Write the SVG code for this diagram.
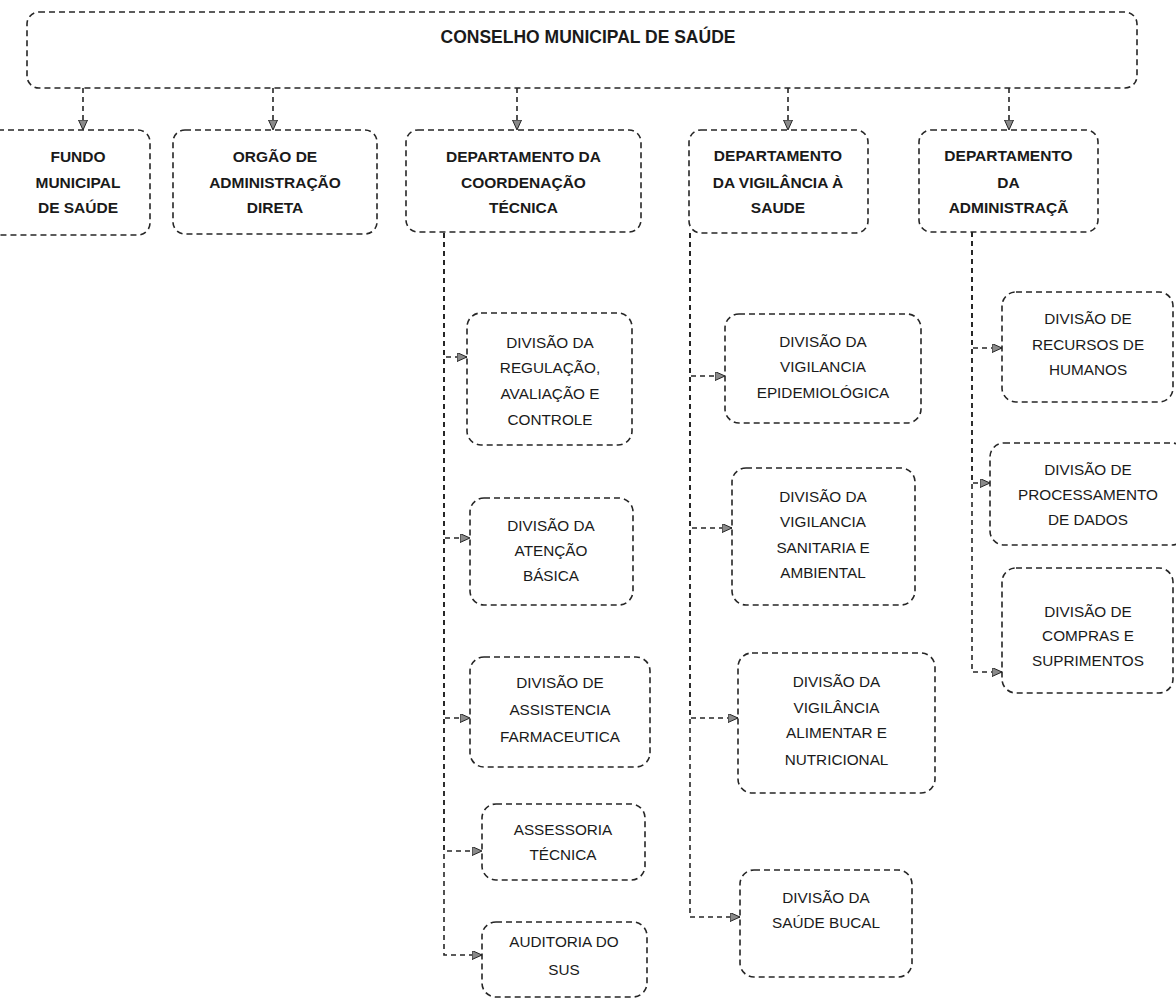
<svg xmlns="http://www.w3.org/2000/svg" width="1176" height="1001" viewBox="0 0 1176 1001">
<style>
  .box { fill: none; stroke: #262626; stroke-width: 1.6; stroke-dasharray: 6 4; }
  .conn { fill: none; stroke: #262626; stroke-width: 1.6; stroke-dasharray: 5 4; }
  .t { font-family: "Liberation Sans", Arial, sans-serif; font-size: 15.3px; fill: #1a1a1a; text-anchor: middle; }
  .tb { font-family: "Liberation Sans", Arial, sans-serif; font-size: 15.5px; font-weight: bold; fill: #1a1a1a; text-anchor: middle; }
  .title { font-family: "Liberation Sans", Arial, sans-serif; font-size: 17.5px; font-weight: bold; fill: #1a1a1a; text-anchor: middle; }
</style>
<defs>
  <marker id="arr" markerUnits="userSpaceOnUse" markerWidth="11" markerHeight="10" refX="10" refY="4.5" orient="auto">
    <path d="M0,0 L10,4.5 L0,9 Z" fill="#8a8a8a" stroke="#262626" stroke-width="1"/>
  </marker>
</defs>
<rect width="1176" height="1001" fill="#ffffff"/>

<g id="connectors">
  <path class="conn" d="M83,88 V130" marker-end="url(#arr)"/>
  <path class="conn" d="M273,88 V130" marker-end="url(#arr)"/>
  <path class="conn" d="M517,88 V130" marker-end="url(#arr)"/>
  <path class="conn" d="M788,88 V130" marker-end="url(#arr)"/>
  <path class="conn" d="M1009,88 V130" marker-end="url(#arr)"/>

  <path class="conn" d="M444,233 V357 H467" marker-end="url(#arr)"/>
  <path class="conn" d="M444,233 V538 H470" marker-end="url(#arr)"/>
  <path class="conn" d="M444,233 V718 H470" marker-end="url(#arr)"/>
  <path class="conn" d="M444,233 V851 H482" marker-end="url(#arr)"/>
  <path class="conn" d="M444,233 V955 H482" marker-end="url(#arr)"/>

  <path class="conn" d="M690,233 V376 H725" marker-end="url(#arr)"/>
  <path class="conn" d="M690,233 V528 H732" marker-end="url(#arr)"/>
  <path class="conn" d="M690,233 V718 H738" marker-end="url(#arr)"/>
  <path class="conn" d="M690,233 V917 H740" marker-end="url(#arr)"/>

  <path class="conn" d="M972,232 V348 H1002" marker-end="url(#arr)"/>
  <path class="conn" d="M972,232 V483 H990" marker-end="url(#arr)"/>
  <path class="conn" d="M972,232 V672 H1002" marker-end="url(#arr)"/>
</g>

<g id="conselho">
  <rect class="box" x="27" y="12" width="1110" height="76" rx="12"/>
  <text class="title" x="588" y="43">CONSELHO MUNICIPAL DE SAÚDE</text>
</g>

<g id="fundo">
  <rect class="box" x="-14" y="130" width="164" height="105" rx="12"/>
  <text class="tb" x="78" y="162">FUNDO</text>
  <text class="tb" x="78" y="188">MUNICIPAL</text>
  <text class="tb" x="78" y="213">DE SAÚDE</text>
</g>

<g id="orgao">
  <rect class="box" x="173" y="130" width="204" height="104" rx="12"/>
  <text class="tb" x="275" y="162">ORGÃO DE</text>
  <text class="tb" x="275" y="188">ADMINISTRAÇÃO</text>
  <text class="tb" x="275" y="213">DIRETA</text>
</g>

<g id="dept-coord">
  <rect class="box" x="406" y="130" width="235" height="102" rx="12"/>
  <text class="tb" x="523.5" y="162">DEPARTAMENTO DA</text>
  <text class="tb" x="523.5" y="188">COORDENAÇÃO</text>
  <text class="tb" x="523.5" y="213">TÉCNICA</text>
</g>

<g id="dept-vig">
  <rect class="box" x="689" y="130" width="179" height="103" rx="12"/>
  <text class="tb" x="778" y="161">DEPARTAMENTO</text>
  <text class="tb" x="778" y="188">DA VIGILÂNCIA À</text>
  <text class="tb" x="778" y="213">SAUDE</text>
</g>

<g id="dept-adm">
  <rect class="box" x="919" y="130" width="179" height="102" rx="12"/>
  <text class="tb" x="1008.5" y="161">DEPARTAMENTO</text>
  <text class="tb" x="1008.5" y="188">DA</text>
  <text class="tb" x="1008.5" y="213">ADMINISTRAÇÃ</text>
</g>

<g id="div-regulacao">
  <rect class="box" x="467" y="313" width="165" height="132" rx="14"/>
  <text class="t" x="550" y="348">DIVISÃO DA</text>
  <text class="t" x="550" y="373">REGULAÇÃO,</text>
  <text class="t" x="550" y="399">AVALIAÇÃO E</text>
  <text class="t" x="550" y="425">CONTROLE</text>
</g>

<g id="div-atencao">
  <rect class="box" x="470" y="498" width="163" height="107" rx="14"/>
  <text class="t" x="551" y="531">DIVISÃO  DA</text>
  <text class="t" x="551" y="556">ATENÇÃO</text>
  <text class="t" x="551" y="581">BÁSICA</text>
</g>

<g id="div-farmaceutica">
  <rect class="box" x="470" y="657" width="180" height="110" rx="14"/>
  <text class="t" x="560" y="688">DIVISÃO  DE</text>
  <text class="t" x="560" y="715">ASSISTENCIA</text>
  <text class="t" x="560" y="742">FARMACEUTICA</text>
</g>

<g id="assessoria">
  <rect class="box" x="482" y="804" width="163" height="76" rx="14"/>
  <text class="t" x="563" y="835">ASSESSORIA</text>
  <text class="t" x="563" y="860">TÉCNICA</text>
</g>

<g id="auditoria">
  <rect class="box" x="482" y="922" width="165" height="75" rx="14"/>
  <text class="t" x="564" y="947">AUDITORIA DO</text>
  <text class="t" x="564" y="975">SUS</text>
</g>

<g id="div-epidemiologica">
  <rect class="box" x="725" y="314" width="196" height="109" rx="14"/>
  <text class="t" x="823" y="347">DIVISÃO DA</text>
  <text class="t" x="823" y="372">VIGILANCIA</text>
  <text class="t" x="823" y="398">EPIDEMIOLÓGICA</text>
</g>

<g id="div-sanitaria">
  <rect class="box" x="732" y="468" width="183" height="137" rx="14"/>
  <text class="t" x="823" y="502">DIVISÃO DA</text>
  <text class="t" x="823" y="527">VIGILANCIA</text>
  <text class="t" x="823" y="553">SANITARIA E</text>
  <text class="t" x="823" y="578">AMBIENTAL</text>
</g>

<g id="div-alimentar">
  <rect class="box" x="738" y="653" width="197" height="140" rx="14"/>
  <text class="t" x="836.5" y="687">DIVISÃO DA</text>
  <text class="t" x="836.5" y="713">VIGILÂNCIA</text>
  <text class="t" x="836.5" y="738">ALIMENTAR E</text>
  <text class="t" x="836.5" y="765">NUTRICIONAL</text>
</g>

<g id="div-bucal">
  <rect class="box" x="740" y="870" width="172" height="107" rx="14"/>
  <text class="t" x="826" y="903">DIVISÃO DA</text>
  <text class="t" x="826" y="928">SAÚDE BUCAL</text>
</g>

<g id="div-rh">
  <rect class="box" x="1002" y="292" width="171" height="110" rx="14"/>
  <text class="t" x="1088" y="324">DIVISÃO DE</text>
  <text class="t" x="1088" y="350">RECURSOS DE</text>
  <text class="t" x="1088" y="375">HUMANOS</text>
</g>

<g id="div-dados">
  <rect class="box" x="990" y="443" width="196" height="102" rx="14"/>
  <text class="t" x="1088" y="475">DIVISÃO DE</text>
  <text class="t" x="1088" y="500">PROCESSAMENTO</text>
  <text class="t" x="1088" y="525">DE DADOS</text>
</g>

<g id="div-compras">
  <rect class="box" x="1002" y="568" width="171" height="125" rx="14"/>
  <text class="t" x="1088" y="617">DIVISÃO DE</text>
  <text class="t" x="1088" y="641">COMPRAS E</text>
  <text class="t" x="1088" y="666">SUPRIMENTOS</text>
</g>
</svg>
